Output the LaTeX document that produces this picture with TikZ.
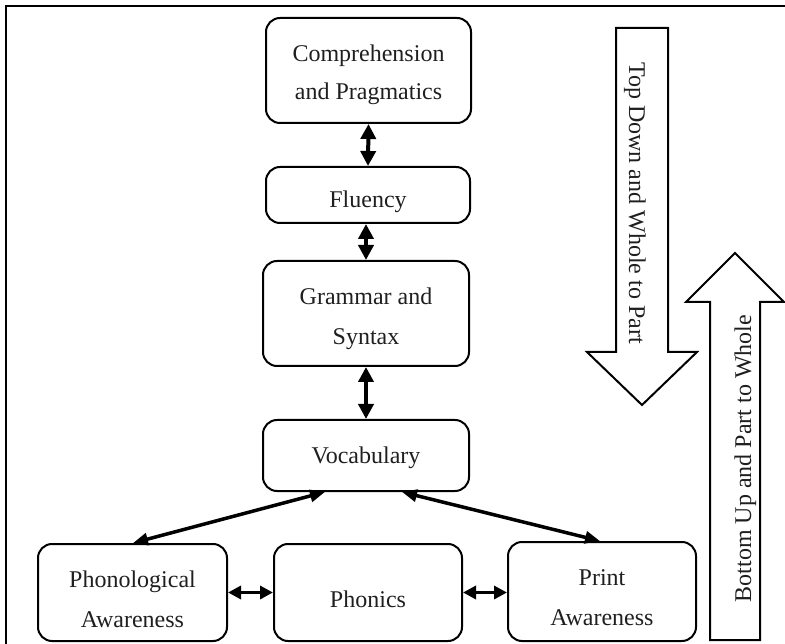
\documentclass[tikz,border=0pt]{standalone}
\usepackage{fontspec}
\setmainfont{Liberation Serif}
\usetikzlibrary{arrows.meta,calc}
\begin{document}
\begin{tikzpicture}[x=1pt,y=-1pt,
  box/.style={draw, rectangle, line width=2pt, rounded corners=14pt, inner sep=0pt},
  lbl/.style={inner sep=0pt, font=\fontsize{24}{28}\selectfont, anchor=base, text=black!88},
  vconn/.style={line width=4pt, {Triangle[length=15pt,width=15pt]}-{Triangle[length=15pt,width=15pt]}},
  dconn/.style={line width=3.5pt, {Triangle[length=15pt,width=12pt]}-{Triangle[length=15pt,width=12pt]}},
  hconn/.style={line width=3.5pt, {Triangle[length=13pt,width=13pt]}-{Triangle[length=13pt,width=13pt]}},
  bigarrow/.style={draw, line width=2pt, line join=miter}]
\clip (0,0) rectangle (785,644);
% outer frame (cropped)
\draw[line width=1.5pt] (6,660) -- (6,6) -- (800,6);
% boxes
\node[box, minimum width=205pt, minimum height=105pt] (comp) at (368.5,70.5) {};
\node[box, minimum width=204pt, minimum height=56pt] (flu) at (368,195) {};
\node[box, minimum width=206pt, minimum height=105pt] (gram) at (366,313.5) {};
\node[box, minimum width=206pt, minimum height=71pt] (voc) at (366,455.5) {};
\node[box, minimum width=189pt, minimum height=97pt] (phon) at (132.5,592.5) {};
\node[box, minimum width=188pt, minimum height=97pt] (phx) at (368,592.5) {};
\node[box, minimum width=188pt, minimum height=99pt] (prt) at (602,591.5) {};
% texts
\node[lbl] (tcompa) at (368.5,62) {Comprehension};
\node[lbl] (tcompb) at (368.5,100) {and Pragmatics};
\node[lbl] (tflu) at (368,208) {Fluency};
\node[lbl] (tgrama) at (366,305) {Grammar and};
\node[lbl] (tgramb) at (366,345) {Syntax};
\node[lbl] (tvoc) at (366,463) {Vocabulary};
\node[lbl] (tphona) at (132.5,587) {Phonological};
\node[lbl] (tphonb) at (132.5,627) {Awareness};
\node[lbl] (tphx) at (368,607) {Phonics};
\node[lbl] (tprta) at (602,585) {Print};
\node[lbl] (tprtb) at (602,625) {Awareness};
% connectors
\draw[vconn] (comp.south) -- (flu.north);
\draw[vconn] ($(flu.south)+(-2,0)$) -- (gram.north);
\draw[vconn] (gram.south) -- (voc.north);
\draw[dconn] ($(voc.south)+(-41,0)$) -- ($(phon.north)+(0.5,0)$);
\draw[dconn] ($(voc.south)+(36,0)$) -- ($(prt.north)+(-2,0)$);
\draw[hconn] (phon.east) -- (phx.west);
\draw[hconn] (phx.east) -- (prt.west |- phx.east);
% big arrows
\draw[bigarrow] (616,28) -- (668,28) -- (668,352) -- (697,352) -- (642,405) -- (587,352) -- (616,352) -- cycle;
\draw[bigarrow] (710,640) -- (710,302) -- (686,302) -- (735,253) -- (784,302) -- (760,302) -- (760,640) -- cycle;
\node[lbl, rotate=-90] (tdown) at (629,203) {Top Down and Whole to Part};
\node[lbl, rotate=90] (tup) at (751,458.5) {Bottom Up and Part to Whole};
\end{tikzpicture}
\end{document}
